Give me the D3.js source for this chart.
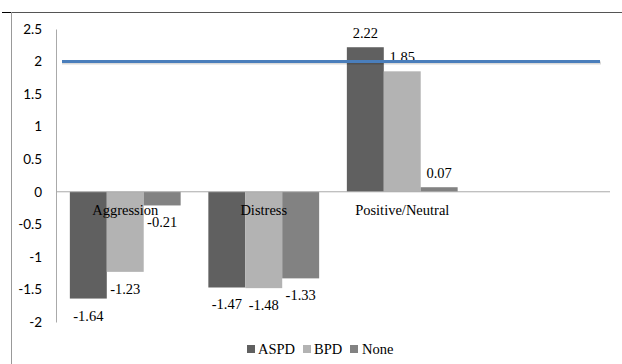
<!DOCTYPE html>
<html><head><meta charset="utf-8">
<script src="https://cdn.jsdelivr.net/npm/d3@7"></script>
<style>body{margin:0;background:#fff}svg{display:block}svg text{font-family:"Liberation Serif",serif;font-size:14.5px;fill:#000}svg g.yaxis text{font-family:Lato,"Liberation Sans",sans-serif;font-size:13.5px}</style>
</head><body><div id="c"></div>
<script>
const categories = ["Aggression", "Distress", "Positive/Neutral", ""];
const seriesNames = ["ASPD", "BPD", "None"];
const aspd = [-1.64, -1.47, 2.22, null];
const bpd = [-1.23, -1.48, 1.85, null];
const none = [-0.21, -1.33, 0.07, null];
const yTicks = [2.5, 2, 1.5, 1, 0.5, 0, -0.5, -1, -1.5, -2];
const refLine = 2;
const colors = ["#606060", "#b3b3b3", "#828282"];

const W = 622, H = 364;
const FONT = '"Liberation Serif", serif';
const svg = d3.select("#c").append("svg").attr("width", W).attr("height", H)
  .attr("font-family", FONT).attr("font-size", 14.5);
// outer frame
svg.append("line").attr("x1", 2).attr("x2", W).attr("y1", 12.5).attr("y2", 12.5).attr("stroke", "#555").attr("stroke-width", 1);
svg.append("line").attr("x1", 2).attr("x2", 11).attr("y1", 12.5).attr("y2", 12.5).attr("stroke", "#000").attr("stroke-width", 1);
svg.append("line").attr("x1", 11.5).attr("x2", 11.5).attr("y1", 12).attr("y2", H).attr("stroke", "#999").attr("stroke-width", 1);

const x0 = 56, x1 = 610;
const y = d3.scaleLinear().domain([-2, 2.5]).range([322, 29]);
const x = d3.scaleBand().domain(categories.map((c, i) => i)).range([x0, x1]).paddingInner(0.2).paddingOuter(0.1);
const xs = d3.scaleBand().domain(seriesNames).range([0, x.bandwidth()]);

// y axis
const yAxis = d3.axisLeft(y).tickValues(yTicks).tickSize(0).tickPadding(14).tickFormat(d => String(d));
const ga = svg.append("g").attr("class", "yaxis").attr("transform", `translate(${x0},0)`).call(yAxis);
ga.select(".domain").attr("stroke", "#aaa");
ga.selectAll("text").attr("fill", "#000");

const series = [aspd, bpd, none];
series.forEach((vals, si) => {
  const g = svg.append("g");
  vals.forEach((v, ci) => {
    if (v == null) return;
    const bx = x(ci) + xs(seriesNames[si]);
    g.append("rect").attr("x", bx).attr("width", xs.bandwidth())
      .attr("y", Math.min(y(v), y(0))).attr("height", Math.abs(y(v) - y(0)))
      .attr("fill", colors[si]);
  });
});
// zero line
svg.append("line").attr("x1", x0).attr("x2", x1).attr("y1", y(0)).attr("y2", y(0)).attr("stroke", "#aaa");

// category labels
categories.forEach((c, ci) => {
  svg.append("text").attr("x", x(ci) + x.bandwidth() / 2).attr("y", y(0) + 23).attr("text-anchor", "middle").text(c);
});
// data labels
series.forEach((vals, si) => {
  vals.forEach((v, ci) => {
    if (v == null) return;
    const cx = x(ci) + xs(seriesNames[si]) + xs.bandwidth() / 2;
    const ly = v >= 0 ? y(v) - 9 : y(v) + 22;
    svg.append("text").attr("x", cx).attr("y", ly).attr("text-anchor", "middle").text(v.toFixed(2));
  });
});

// reference line with soft shadow
svg.append("line").attr("x1", 62).attr("x2", 601).attr("y1", y(refLine) + 1.5).attr("y2", y(refLine) + 1.5)
  .attr("stroke", "#000").attr("stroke-opacity", 0.15).attr("stroke-width", 3);
svg.append("line").attr("x1", 62).attr("x2", 600).attr("y1", y(refLine)).attr("y2", y(refLine))
  .attr("stroke", "#4a7ebb").attr("stroke-width", 3);

// legend
const leg = [[247, 258], [303, 314], [350, 362]];
seriesNames.forEach((n, i) => {
  svg.append("rect").attr("x", leg[i][0]).attr("y", 345).attr("width", 8).attr("height", 8).attr("fill", colors[i]);
  svg.append("text").attr("x", leg[i][1]).attr("y", 354).text(n);
});
</script></body></html>
